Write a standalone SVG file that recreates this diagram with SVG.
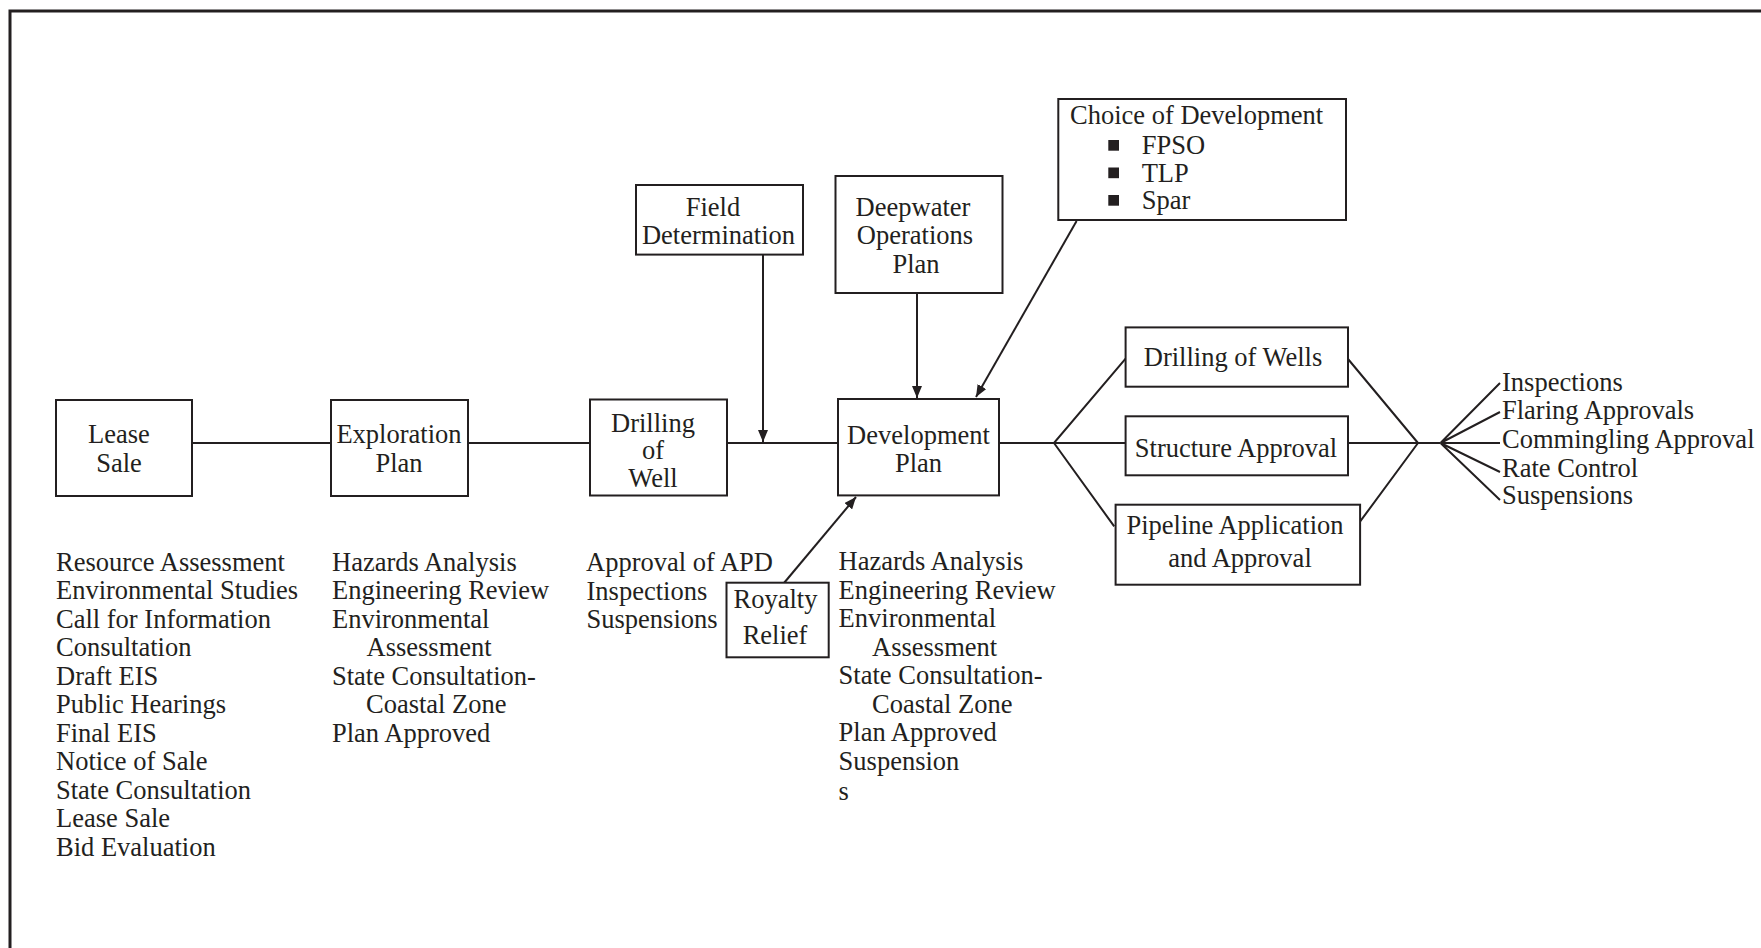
<svg xmlns="http://www.w3.org/2000/svg" width="1761" height="948" viewBox="0 0 1761 948">
<style>
text{font-family:"Liberation Serif","Times New Roman",serif;font-size:26.5px;fill:#231f20}
.c{text-anchor:middle}
.box{fill:#fff;stroke:#231f20;stroke-width:2}
.ln{fill:none;stroke:#231f20;stroke-width:2}
</style>
<defs>
<marker id="ah" viewBox="0 0 12 10" refX="12" refY="5" markerWidth="12" markerHeight="10" markerUnits="userSpaceOnUse" orient="auto">
<path d="M0,0 L12,5 L0,10 z" fill="#231f20"/>
</marker>
</defs>
<rect width="1761" height="948" fill="#fff"/>
<path d="M10,948 V11 H1761" fill="none" stroke="#231f20" stroke-width="3"/>

<g id="connectors">
<path class="ln" d="M192,443 H331 M468,443 H590 M727,443 H838 M999,443 H1054 L1125.6,358.6 M1054,443 H1125.6 M1054,443 L1114.2,526.4"/>
<path class="ln" d="M1348,359 L1418,443 M1348,443 H1418 M1360,521.7 L1418,443 M1418,443 H1440.5"/>
<path class="ln" d="M1440.5,443 L1500,383 M1440.5,443 L1500,412 M1440.5,443 H1500 M1440.5,443 L1500,472 M1440.5,443 L1500,500"/>
<path class="ln" d="M763,254.6 V442" marker-end="url(#ah)"/>
<path class="ln" d="M917,293 V398" marker-end="url(#ah)"/>
<path class="ln" d="M1076.6,221 L976,397" marker-end="url(#ah)"/>
<path class="ln" d="M784,583 L856,497" marker-end="url(#ah)"/>
</g>

<g id="lease-sale">
<rect class="box" x="56" y="400" width="136" height="96"/>
<text class="c" x="119" y="443.3">Lease</text>
<text class="c" x="119" y="471.7">Sale</text>
</g>
<g id="lease-sale-notes">
<text x="56" y="570.7">Resource Assessment<tspan x="56" dy="28.5">Environmental Studies</tspan><tspan x="56" dy="28.5">Call for Information</tspan><tspan x="56" dy="28.5">Consultation</tspan><tspan x="56" dy="28.5">Draft EIS</tspan><tspan x="56" dy="28.5">Public Hearings</tspan><tspan x="56" dy="28.5">Final EIS</tspan><tspan x="56" dy="28.5">Notice of Sale</tspan><tspan x="56" dy="28.5">State Consultation</tspan><tspan x="56" dy="28.5">Lease Sale</tspan><tspan x="56" dy="28.5">Bid Evaluation</tspan></text>
</g>

<g id="exploration-plan">
<rect class="box" x="331" y="400" width="137" height="96"/>
<text class="c" x="399" y="443.3">Exploration</text>
<text class="c" x="399" y="471.7">Plan</text>
</g>
<g id="exploration-notes">
<text x="332" y="570.7">Hazards Analysis<tspan x="332" dy="28.5">Engineering Review</tspan><tspan x="332" dy="28.5">Environmental</tspan><tspan x="366.5" dy="28.5">Assessment</tspan><tspan x="332" dy="28.5">State Consultation-</tspan><tspan x="366" dy="28.5">Coastal Zone</tspan><tspan x="332" dy="28.5">Plan Approved</tspan></text>
</g>

<g id="drilling-of-well">
<rect class="box" x="590" y="399.5" width="137" height="96"/>
<text class="c" x="653" y="432">Drilling</text>
<text class="c" x="653" y="459">of</text>
<text class="c" x="653" y="487">Well</text>
</g>
<g id="drilling-notes">
<text x="586" y="571">Approval of APD<tspan x="586.5" dy="28.5">Inspections</tspan><tspan x="586.5" dy="28.5">Suspensions</tspan></text>
</g>

<g id="field-determination">
<rect class="box" x="636" y="185" width="167" height="69.6"/>
<text class="c" x="713" y="215.7">Field</text>
<text class="c" x="718.5" y="243.6">Determination</text>
</g>

<g id="deepwater-operations-plan">
<rect class="box" x="835.5" y="176" width="167" height="117"/>
<text class="c" x="913" y="215.7">Deepwater</text>
<text class="c" x="915" y="244.3">Operations</text>
<text class="c" x="916" y="272.9">Plan</text>
</g>

<g id="choice-of-development">
<rect class="box" x="1058.3" y="99" width="287.7" height="121"/>
<text x="1070" y="124">Choice of Development</text>
<rect x="1108.3" y="140" width="10.7" height="10.7" fill="#231f20"/>
<rect x="1108.3" y="167.5" width="10.7" height="10.7" fill="#231f20"/>
<rect x="1108.3" y="195" width="10.7" height="10.7" fill="#231f20"/>
<text x="1141.7" y="154">FPSO</text>
<text x="1141.7" y="181.7">TLP</text>
<text x="1141.7" y="209">Spar</text>
</g>

<g id="development-plan">
<rect class="box" x="838" y="399" width="161" height="96.4"/>
<text class="c" x="918.5" y="443.6">Development</text>
<text class="c" x="918.5" y="472">Plan</text>
</g>
<g id="development-notes">
<text x="838.6" y="570">Hazards Analysis<tspan x="838.6" dy="28.5">Engineering Review</tspan><tspan x="838.6" dy="28.5">Environmental</tspan><tspan x="872" dy="28.5">Assessment</tspan><tspan x="838.6" dy="28.5">State Consultation-</tspan><tspan x="872" dy="28.5">Coastal Zone</tspan><tspan x="838.6" dy="28.5">Plan Approved</tspan><tspan x="838.6" dy="28.5">Suspension</tspan><tspan x="838.6" dy="30.5">s</tspan></text>
</g>

<g id="royalty-relief">
<rect class="box" x="726.5" y="582.7" width="102.2" height="74.6"/>
<text class="c" x="775.5" y="608">Royalty</text>
<text class="c" x="775" y="644">Relief</text>
</g>

<g id="drilling-of-wells">
<rect class="box" x="1125.6" y="327.4" width="222.4" height="59.3"/>
<text class="c" x="1233" y="366">Drilling of Wells</text>
</g>

<g id="structure-approval">
<rect class="box" x="1125.6" y="416.3" width="222.4" height="59"/>
<text class="c" x="1236" y="456.7">Structure Approval</text>
</g>

<g id="pipeline-application">
<rect class="box" x="1115.6" y="504.7" width="244.5" height="80"/>
<text class="c" x="1235" y="534">Pipeline Application</text>
<text class="c" x="1240" y="566.7">and Approval</text>
</g>

<g id="final-items">
<text x="1502" y="390.7">Inspections</text>
<text x="1502" y="419">Flaring Approvals</text>
<text x="1502" y="448">Commingling Approval</text>
<text x="1502" y="476.7">Rate Control</text>
<text x="1502" y="504">Suspensions</text>
</g>
</svg>
